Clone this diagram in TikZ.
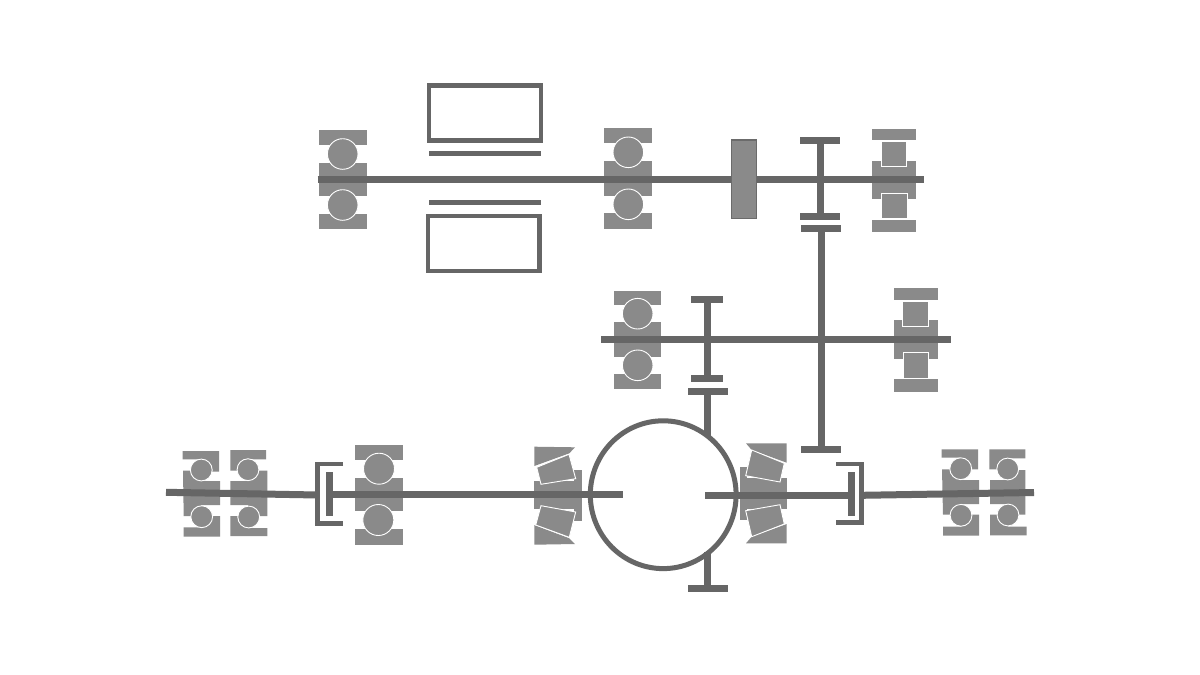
\documentclass[tikz,border=0pt]{standalone}
\definecolor{brgfill}{HTML}{8A8A8A}
\definecolor{steel}{HTML}{666666}
\tikzset{
  part/.style={fill=brgfill,draw=none},
  ballpart/.style={fill=brgfill,draw=white,line width=0.9pt},
  shaft/.style={draw=steel,line width=7pt,line cap=butt},
  thinbar/.style={draw=steel,line width=4.7pt,line cap=butt},
  frame/.style={draw=steel,line width=4.4pt,fill=none},
  cup/.style={draw=steel,line width=4.5pt,line join=miter,fill=none}
}
\newcommand{\ringrect}[4]{\fill[brgfill] (#1,#2) rectangle (#3,#4);}
\begin{document}
\begin{tikzpicture}[x=1pt,y=-1pt]
\useasboundingbox[fill=white] (0,0) rectangle (1200,675);

% ---- top shaft bearings
\ringrect{319}{130}{366.7}{145}\ringrect{319}{163.3}{366.7}{196}\ringrect{319}{214}{366.7}{229.3}
\path[ballpart] (342.7,154) circle (15.3) (342.7,205) circle (15.3);
\ringrect{604.3}{127.7}{652}{142.7}\ringrect{604.3}{161}{652}{195.7}\ringrect{604.3}{213.3}{652}{228.7}
\path[ballpart] (628.3,152.3) circle (15.3) (628.3,204.3) circle (15.3);
\ringrect{872}{129}{916}{140.3}\ringrect{872}{160.7}{916}{199}\ringrect{872}{220}{916}{232}
\path[ballpart] (881,141) rectangle (906.7,166.7) (881.7,193) rectangle (907.3,218.7);

% ---- middle shaft bearings
\ringrect{614}{291}{661.3}{305.3}\ringrect{614}{322.3}{661.3}{356.7}\ringrect{614}{373.7}{661.3}{388.7}
\path[ballpart] (637.7,313.7) circle (15.3) (637.7,365.3) circle (15.3);
\ringrect{894}{288.3}{938}{300}\ringrect{894}{320}{938}{358.7}\ringrect{894}{379.3}{938}{391.7}
\path[ballpart] (902.7,301) rectangle (928.3,326.3) (903,352.3) rectangle (928.7,378.3);

% ---- lower left bearings
\ringrect{354.7}{445}{402.7}{460}\ringrect{354.7}{477.7}{402.7}{511}\ringrect{354.7}{529.3}{402.7}{544.7}
\path[ballpart] (379,468.7) circle (15.5) (378.3,520) circle (15.5);

% angular pair, left
\fill[brgfill] (182.7,451) -- (219,451) -- (219,471.7) -- (201,471.7) -- (201,459.3) -- (182.7,459.3) -- cycle;
\fill[brgfill] (183,470.7) -- (201,470.7) -- (201,481) -- (220,481) -- (220,505) -- (201,505) -- (201,516) -- (183.7,516) -- cycle;
\fill[brgfill] (183.7,527.3) -- (201,527.3) -- (201,516) -- (220,516) -- (220,536.7) -- (183.7,536.7) -- cycle;
\path[ballpart] (201.3,470) circle (10.9) (201.7,516.7) circle (10.9);
\fill[brgfill] (230.3,450) -- (266,450) -- (266,459.3) -- (248,459.3) -- (248,470.7) -- (230.3,470.7) -- cycle;
\fill[brgfill] (248,470.7) -- (267.3,470.7) -- (267.3,516) -- (248,516) -- (248,505) -- (230.3,505) -- (230.3,481) -- (248,481) -- cycle;
\fill[brgfill] (230.3,516) -- (248,516) -- (248,528) -- (267.3,528) -- (267.3,536) -- (230.3,536) -- cycle;
\path[ballpart] (248,469.7) circle (10.9) (248.7,517) circle (10.9);

% tapered left
\fill[brgfill] (534.3,481.3) rectangle (582,509.3);
\fill[brgfill] (574,470) rectangle (582,520.7);
\fill[brgfill] (534.3,446.7) -- (575,447.3) -- (569.3,453.3) -- (534.3,466) -- cycle;
\fill[brgfill] (534.3,525) -- (569.3,538.3) -- (575,544) -- (534.3,544.7) -- cycle;
\path[ballpart] (536.7,467.3) -- (569,454.3) -- (575.7,478.7) -- (541,484.3) -- cycle;
\path[ballpart] (541,505.7) -- (575.7,512) -- (569.3,537.3) -- (535.7,525) -- cycle;

% tapered right
\fill[brgfill] (739.7,478.3) rectangle (787.3,509);
\fill[brgfill] (739.7,467) rectangle (747.3,520);
\fill[brgfill] (746,443.3) -- (786.7,443.3) -- (786.7,462.7) -- (751.7,450) -- cycle;
\fill[brgfill] (786.7,524) -- (786.7,543.3) -- (746,543.3) -- (751.7,536.7) -- cycle;
\path[ballpart] (751.7,450) -- (784.3,463.3) -- (780,482) -- (745.7,475.7) -- cycle;
\path[ballpart] (745.7,510.7) -- (780,504.7) -- (784.3,524) -- (751.7,536.7) -- cycle;

% angular pair, right
\fill[brgfill] (941.7,449.3) -- (978,449.3) -- (978,469.3) -- (960,469.3) -- (960,457.7) -- (941.7,457.7) -- cycle;
\fill[brgfill] (942,469.3) -- (960,469.3) -- (960,480) -- (979,480) -- (979,504) -- (961,504) -- (961,514.7) -- (943,514.7) -- cycle;
\fill[brgfill] (943,526.7) -- (961,526.7) -- (961,514.7) -- (979,514.7) -- (979,535.7) -- (943,535.7) -- cycle;
\path[ballpart] (960.7,468.7) circle (10.9) (961,515.3) circle (10.9);
\fill[brgfill] (989.3,449.3) -- (1025.3,449.3) -- (1025.3,458.3) -- (1007.5,458.3) -- (1007.5,469.3) -- (989.3,469.3) -- cycle;
\fill[brgfill] (1007.5,470) -- (1025.3,470) -- (1025.3,514.7) -- (1008,514.7) -- (1008,504) -- (990,504) -- (990,480) -- (1007.5,480) -- cycle;
\fill[brgfill] (990,514.7) -- (1008,514.7) -- (1008,526.7) -- (1026.7,526.7) -- (1026.7,535.3) -- (990,535.3) -- cycle;
\path[ballpart] (1007.7,469) circle (10.9) (1008,515) circle (10.9);

% ---- housing rectangles and sleeve lines
\draw[frame] (429,85.3) rectangle (540.7,140.3);
\draw[frame] (428,216) rectangle (539.3,270.7);
\draw[thinbar] (429,153.3) -- (540.7,153.3);
\draw[thinbar] (429,202.3) -- (540.7,202.3);

% ---- shafts
\draw[shaft] (317.7,179.3) -- (923.7,179.3);
\draw[shaft] (601,339.5) -- (951,339.5);
\draw[shaft] (820.5,140) -- (820.5,217);
\draw[shaft] (821.5,229) -- (821.5,449);
\draw[shaft] (707.5,300) -- (707.5,378);
\draw[shaft] (707.5,392) -- (707.5,436);
\draw[shaft] (707.5,552) -- (707.5,588);
\draw[shaft] (166,492.3) -- (318,495);
\draw[shaft] (330,494.5) -- (622.7,494.5);
\draw[shaft] (705.3,495) -- (851,495);
\draw[shaft] (862,495.3) -- (1034,492.5);

% ---- gear bars
\draw[shaft] (800,140.3) -- (840,140.3);
\draw[shaft] (800,216.8) -- (840,216.8);
\draw[shaft] (801,228.7) -- (841,228.7);
\draw[shaft] (691.3,299.8) -- (723.3,299.8);
\draw[shaft] (691.3,378.5) -- (723.3,378.5);
\draw[shaft] (688.3,391.7) -- (728,391.7);
\draw[shaft] (801,449) -- (841,449);
\draw[shaft] (688.3,588.3) -- (728.3,588.3);
\draw[shaft] (329.8,472) -- (329.8,516);
\draw[shaft] (851.3,472) -- (851.3,516);

% ---- couplings
\draw[cup] (343,464) -- (317.6,464) -- (317.6,523.6) -- (343,523.6);
\draw[cup] (836.3,464) -- (861.5,464) -- (861.5,522.5) -- (836.3,522.5);

% ---- pulley
\draw[fill=brgfill,draw=steel!85!brgfill,line width=1.7pt] (731.4,140) rectangle (756.6,218.6);

% ---- differential housing
\draw[draw=steel,line width=5pt] (663.2,494.7) circle [x radius=72.9, y radius=73.9];
\end{tikzpicture}
\end{document}
